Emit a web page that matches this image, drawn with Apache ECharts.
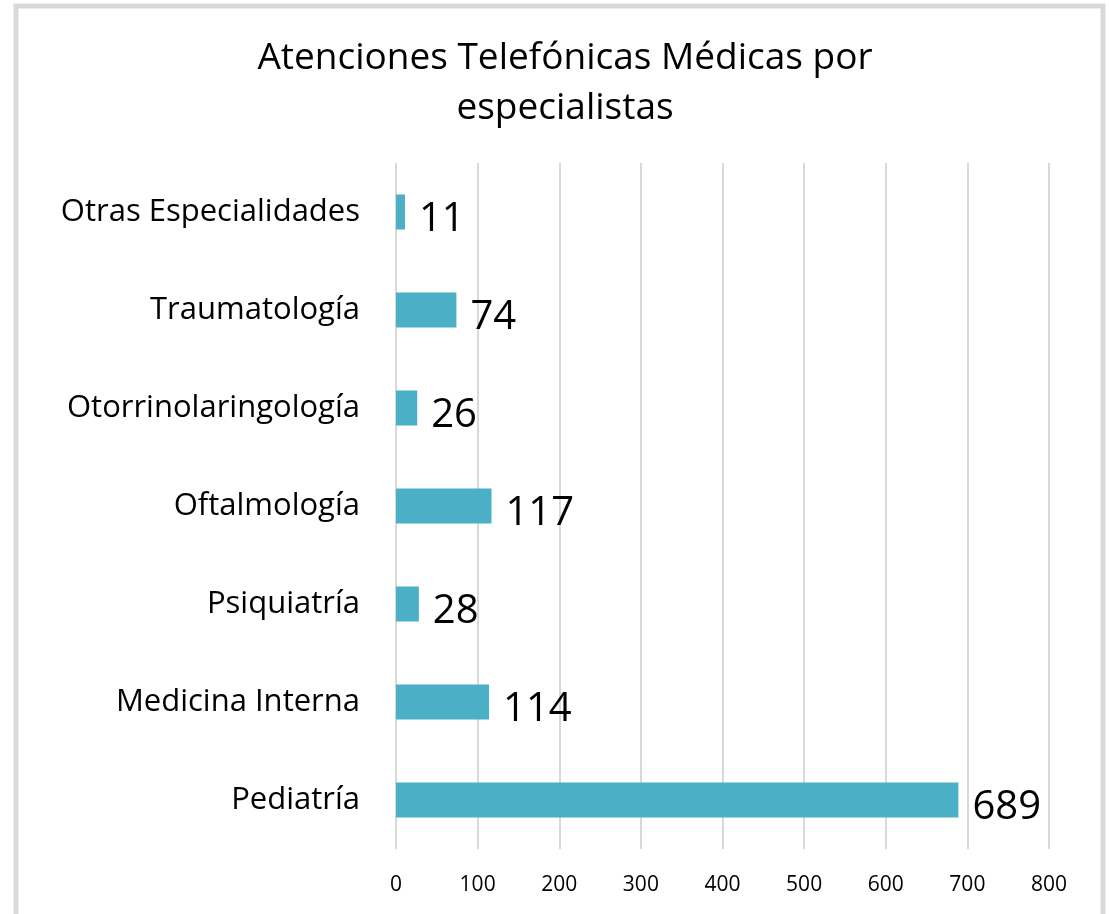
<!DOCTYPE html>
<html>
<head>
<meta charset="utf-8">
<script src="https://cdn.jsdelivr.net/npm/echarts@6/dist/echarts.min.js"></script>
<style>
  html, body { margin: 0; padding: 0; background: #fff; }
  #chart { width: 1109px; height: 914px; }
</style>
</head>
<body>
<div id="chart"></div>
<script>
    'use strict';

    // data, bottom to top as drawn
    var categories = ['Pediatría', 'Medicina Interna', 'Psiquiatría', 'Oftalmología',
        'Otorrinolaringología', 'Traumatología', 'Otras Especialidades'];
    var values = [689, 114, 28, 117, 26, 74, 11];
    var xTicks = [0, 100, 200, 300, 400, 500, 600, 700, 800];

    var font = '"Open Sans", Lato, sans-serif';
    var chart = echarts.init(document.getElementById('chart'));

    chart.setOption({
        animation: false,
        backgroundColor: '#fff',
        graphic: [{
            type: 'rect',
            shape: { x: 16, y: 6, width: 1087, height: 940 },
            style: { fill: 'none', stroke: '#d9d9d9', lineWidth: 5 }
        }],
        title: {
            text: 'Atenciones Telefónicas Médicas por\nespecialistas',
            left: 560,
            top: 28,
            textAlign: 'center',
            textStyle: { fontFamily: font, fontSize: 37, fontWeight: 'normal', color: '#000', lineHeight: 50 }
        },
        grid: { left: 396, right: 60, top: 163, bottom: 65 },
        xAxis: {
            type: 'value',
            min: xTicks[0],
            max: xTicks[xTicks.length - 1],
            interval: 100,
            axisLine: { show: false },
            axisTick: { show: false },
            axisLabel: { fontFamily: font, fontSize: 21, color: '#000', margin: 26 },
            splitLine: { lineStyle: { color: '#d9d9d9', width: 2 } }
        },
        yAxis: {
            type: 'category',
            data: categories,
            axisLine: { show: false },
            axisTick: { show: false },
            axisLabel: { fontFamily: font, fontSize: 31, color: '#000', margin: 36 }
        },
        series: [{
            type: 'bar',
            data: values,
            barWidth: 35,
            itemStyle: { color: '#4bafc6' },
            label: {
                show: true,
                position: 'right',
                distance: 14,
                offset: [0, 8],
                fontFamily: font,
                fontSize: 40,
                color: '#000'
            }
        }]
    });
</script>
</body>
</html>
